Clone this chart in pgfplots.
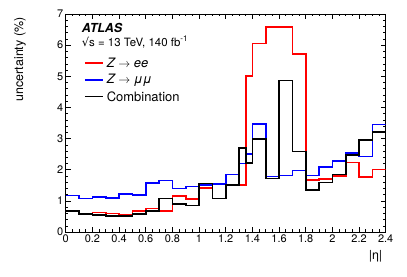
\documentclass[border=0pt]{standalone}
\usepackage{fontspec}
\setmainfont{TeX Gyre Heros}
\newfontfamily\dejavu{DejaVu Sans}
\usepackage{pgfplots}
\pgfplotsset{compat=1.18}
\definecolor{rootred}{RGB}{255,0,0}
\definecolor{rootblue}{RGB}{0,0,255}
\begin{document}
\begin{tikzpicture}
\useasboundingbox (0,0) rectangle (407bp,277bp);
\begin{axis}[
  at={(65.7bp,45bp)}, anchor=south west,
  width=320bp, height=218bp, scale only axis,
  xmin=0, xmax=2.4, ymin=0, ymax=7,
  xtick={0,0.2,0.4,0.6,0.8,1,1.2,1.4,1.6,1.8,2,2.2,2.4},
  xticklabels={0,0.2,0.4,0.6,0.8,1,1.2,1.4,1.6,1.8,2,2.2,2.4},
  ytick={0,1,2,3,4,5,6,7},
  minor x tick num=3, minor y tick num=4,
  tick pos=both, tick align=inside,
  major tick length=5bp, minor tick length=2.5bp,
  every tick/.style={black, line width=0.5bp},
  axis line style={line width=0.7bp},
  /pgf/number format/assume math mode=true,
  ticklabel style={font=\fontsize{11}{11}\selectfont},
  xticklabel style={yshift=1bp},
  yticklabel style={xshift=1bp},
  ylabel={uncertainty (\%)},
  ylabel style={at={(axis description cs:-0.143,1)}, anchor=east, font=\fontsize{12.5}{12.5}\selectfont},
  xlabel={|η|},
  xlabel style={at={(axis description cs:1,-0.11)}, anchor=east, font=\fontsize{12.5}{12.5}\selectfont},
]
\addplot[const plot mark left, draw=rootred, line width=1.6bp] coordinates {
(0,0.66) (0.1,0.57) (0.2,0.62) (0.3,0.60) (0.4,0.56) (0.5,0.68) (0.6,0.76) (0.7,0.68)
(0.8,1.16) (0.9,1.06) (1.0,1.42) (1.1,1.56) (1.2,1.50) (1.3,1.50) (1.35,5.0) (1.4,6.05)
(1.5,6.58) (1.6,6.58) (1.7,5.72) (1.8,1.67) (1.9,1.71) (2.0,1.79) (2.1,2.23) (2.2,1.77)
(2.3,2.01) (2.4,2.01)};
\addplot[const plot mark left, draw=rootblue, line width=1.6bp] coordinates {
(0,1.17) (0.1,1.08) (0.2,1.13) (0.3,1.10) (0.4,1.22) (0.5,1.19) (0.6,1.58) (0.7,1.65)
(0.8,1.40) (0.9,1.46) (1.0,1.50) (1.1,1.54) (1.2,1.84) (1.3,2.2) (1.35,2.5) (1.4,3.46)
(1.5,1.78) (1.6,1.81) (1.7,1.97) (1.8,1.82) (1.9,2.09) (2.0,2.28) (2.1,2.53) (2.2,2.43)
(2.3,3.45) (2.4,3.45)};
\addplot[const plot mark left, draw=black, line width=1.6bp] coordinates {
(0,0.68) (0.1,0.57) (0.2,0.55) (0.3,0.52) (0.4,0.52) (0.5,0.58) (0.6,0.68) (0.7,1.07)
(0.8,0.90) (0.9,0.85) (1.0,1.56) (1.1,1.08) (1.2,1.50) (1.3,2.69) (1.35,2.22) (1.4,2.99)
(1.5,1.72) (1.6,4.87) (1.7,2.58) (1.8,1.35) (1.9,1.59) (2.0,1.85) (2.1,2.48) (2.2,2.95)
(2.3,3.22) (2.4,3.22)};
% legend
\draw[rootred, line width=1.6bp] (axis description cs:0.060,0.774) -- (axis description cs:0.115,0.774);
\draw[rootblue, line width=1.6bp] (axis description cs:0.060,0.698) -- (axis description cs:0.115,0.698);
\draw[black, line width=1.6bp] (axis description cs:0.060,0.621) -- (axis description cs:0.115,0.621);
\node[anchor=west, inner sep=0pt, font=\fontsize{13}{13}\selectfont] at (axis description cs:0.128,0.774) {{\itshape Z} $\rightarrow$ {\itshape ee}};
\node[anchor=west, inner sep=0pt, font=\fontsize{13}{13}\selectfont] at (axis description cs:0.128,0.698) {{\itshape Z} $\rightarrow$ {\itshape μμ}};
\node[anchor=west, inner sep=0pt, font=\fontsize{13}{13}\selectfont] at (axis description cs:0.128,0.621) {Combination};
\node[anchor=west, inner sep=0pt, font=\bfseries\itshape\fontsize{12.5}{12.5}\selectfont] at (axis description cs:0.05,0.936) {ATLAS};
\node[anchor=west, inner sep=0pt, font=\fontsize{11.5}{11.5}\selectfont] at (axis description cs:0.05,0.872) {{\dejavu √}s = 13 TeV, 140 fb\textsuperscript{-1}};
\end{axis}
\end{tikzpicture}
\end{document}
